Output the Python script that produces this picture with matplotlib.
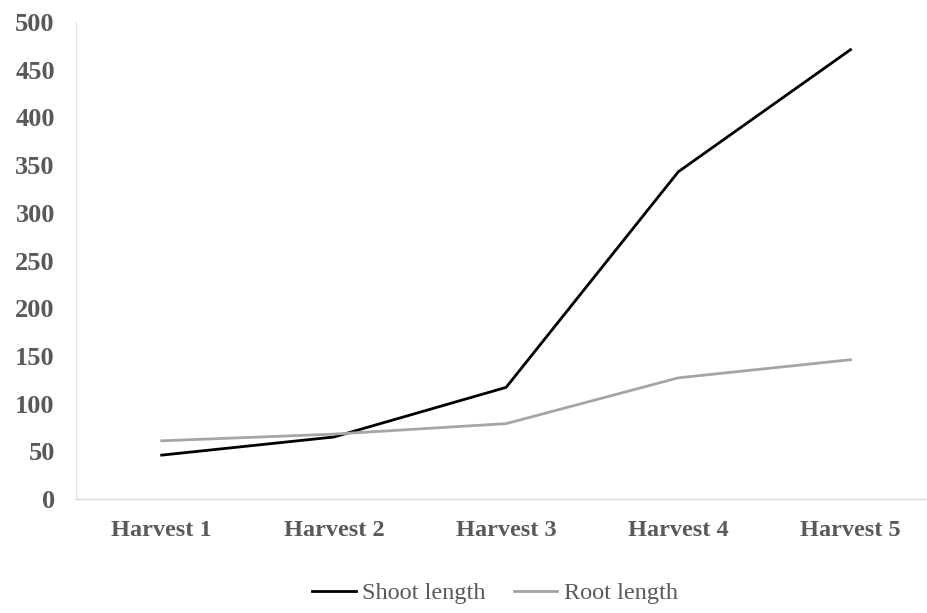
import matplotlib.pyplot as plt

# Harvest data
harvests = ["Harvest 1", "Harvest 2", "Harvest 3", "Harvest 4", "Harvest 5"]
shoot_length = [46, 65, 117, 343, 471]
root_length = [61, 68, 79, 127, 146]

text_color = "#595959"
plt.rcParams["font.family"] = ["Liberation Serif", "DejaVu Serif"]

fig = plt.figure(figsize=(9.28, 6.13), dpi=100)
# axes runs a little past the right edge, like the original
ax = fig.add_axes([75.6 / 928, 1 - 499 / 613, 861 / 928, 477 / 613])

x = range(len(harvests))
ax.plot(x, shoot_length, color="black", linewidth=2.0, label="Shoot length")
ax.plot(x, root_length, color="#a5a5a5", linewidth=2.0, label="Root length")

ax.set_xlim(-0.5, len(harvests) - 0.5)
ax.set_ylim(0, 500)
ax.set_yticks(range(0, 501, 50))
ax.set_xticks(list(x))
ax.set_xticklabels(harvests)

for side in ["top", "right"]:
    ax.spines[side].set_visible(False)
ax.spines["left"].set_color("#e6e6e6")
ax.spines["bottom"].set_color("#d9d9d9")
ax.spines["left"].set_linewidth(1.0)
ax.spines["bottom"].set_linewidth(1.0)

ax.tick_params(axis="both", length=0, colors=text_color)
ax.tick_params(axis="y", pad=15)
ax.tick_params(axis="x", pad=15)
for lbl in ax.get_yticklabels():
    lbl.set_fontsize(19)
    lbl.set_fontweight("bold")
for lbl in ax.get_xticklabels():
    lbl.set_fontsize(17.5)
    lbl.set_fontweight("bold")

leg = fig.legend(loc="center", bbox_to_anchor=(495 / 928, 1 - 593 / 613), ncol=2,
                 frameon=False, fontsize=17.5, handlelength=1.8, handletextpad=0.25,
                 columnspacing=1.15)
for t in leg.get_texts():
    t.set_color(text_color)

fig.savefig("out.png", dpi=100)
plt.close(fig)
